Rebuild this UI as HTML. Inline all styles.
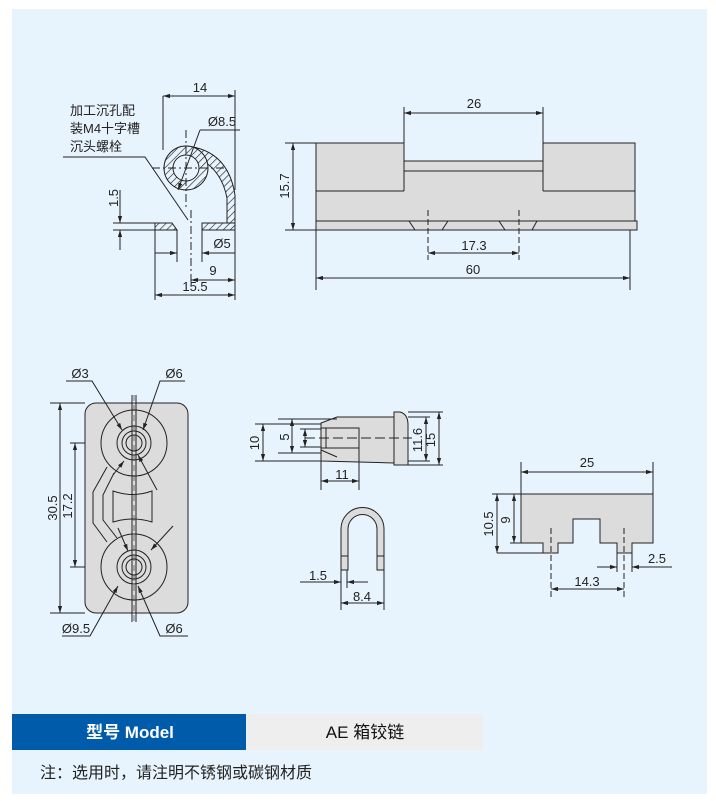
<!DOCTYPE html>
<html><head><meta charset="utf-8"><style>
body{margin:0;background:#fff;width:716px;height:801px;overflow:hidden;font-family:"Liberation Sans","Noto Sans CJK SC",sans-serif}
svg{position:absolute;left:0;top:0}
</style></head><body>
<svg width="716" height="801" viewBox="0 0 716 801" font-family="Liberation Sans, Noto Sans CJK SC, sans-serif">
<defs>
<pattern id="h" width="5" height="5" patternUnits="userSpaceOnUse" patternTransform="rotate(45)"><rect width="5" height="5" fill="#e8f4fd"/><line x1="0" y1="0" x2="0" y2="5" stroke="#222" stroke-width="1.3"/></pattern>
<marker id="a" viewBox="0 0 10 10" refX="10" refY="5" markerWidth="7" markerHeight="7" orient="auto-start-reverse"><path d="M0,2 L10,5 L0,8 z" fill="#222"/></marker>
</defs>
<rect x="12" y="9" width="695" height="785" fill="#e8f4fd"/>
<g stroke="#222" stroke-width="1" fill="none" font-size="12">
<path d="M186,146 Q228,150 235,195 L235,223 L227,223 L227,198 Q222,172 202,160 Z" fill="url(#h)"/>
<path fill-rule="evenodd" fill="url(#h)" d="M164,168 a22,22 0 1,0 44,0 a22,22 0 1,0 -44,0 Z M173,168 a13,13 0 1,0 26,0 a13,13 0 1,0 -26,0 Z"/>
<polygon points="155,223 172,223 177,230 155,230" fill="url(#h)"/>
<polygon points="202,223 235,223 235,230 202,230" fill="url(#h)"/>
<line x1="186" y1="130" x2="186" y2="210" stroke-dasharray="8,3,2,3"/>
<line x1="152" y1="168" x2="225" y2="168" stroke-dasharray="8,3,2,3"/>
<line x1="191" y1="210" x2="191" y2="285" stroke-dasharray="8,3,2,3"/>
<line x1="163" y1="96" x2="163" y2="150"/><line x1="235" y1="90" x2="235" y2="190"/>
<line x1="163" y1="96" x2="235" y2="96" marker-start="url(#a)" marker-end="url(#a)"/>
<line x1="200" y1="130" x2="240" y2="130"/><line x1="200" y1="130" x2="178" y2="190" marker-end="url(#a)"/>
<polyline points="63,157 145,157 188,220"/>
<line x1="113" y1="223" x2="155" y2="223"/><line x1="113" y1="230" x2="155" y2="230"/>
<line x1="120" y1="190" x2="120" y2="223" marker-end="url(#a)"/><line x1="120" y1="250" x2="120" y2="230" marker-end="url(#a)"/>
<line x1="177" y1="230" x2="177" y2="262"/><line x1="202" y1="230" x2="202" y2="262"/>
<line x1="155" y1="253" x2="177" y2="253" marker-end="url(#a)"/><line x1="235" y1="253" x2="202" y2="253" marker-end="url(#a)"/>
<line x1="155" y1="230" x2="155" y2="300"/><line x1="235" y1="230" x2="235" y2="300"/>
<line x1="191" y1="280" x2="235" y2="280" marker-start="url(#a)" marker-end="url(#a)"/>
<line x1="155" y1="295" x2="235" y2="295" marker-start="url(#a)" marker-end="url(#a)"/>
<path d="M316,143 L404,143 L404,161 L543,161 L543,143 L635,143 L635,221 L316,221 Z" fill="#dcdcdc"/>
<line x1="316" y1="191" x2="404" y2="191"/><line x1="543" y1="191" x2="635" y2="191"/>
<line x1="404" y1="143" x2="404" y2="191"/><line x1="543" y1="143" x2="543" y2="191"/>
<line x1="404" y1="171" x2="543" y2="171"/>
<rect x="316" y="221" width="321" height="9" fill="#dcdcdc"/>
<path d="M409,221 L415,230 M448,221 L442,230 M499,221 L505,230 M537,221 L532,230"/>
<line x1="428" y1="210" x2="428" y2="260" stroke-dasharray="6,3"/><line x1="519" y1="210" x2="519" y2="260" stroke-dasharray="6,3"/>
<line x1="404" y1="107" x2="404" y2="143"/><line x1="543" y1="107" x2="543" y2="143"/>
<line x1="404" y1="113" x2="543" y2="113" marker-start="url(#a)" marker-end="url(#a)"/>
<line x1="285" y1="143" x2="316" y2="143"/><line x1="285" y1="230" x2="316" y2="230"/>
<line x1="293" y1="143" x2="293" y2="230" marker-start="url(#a)" marker-end="url(#a)"/>
<line x1="428" y1="253" x2="519" y2="253" marker-start="url(#a)" marker-end="url(#a)"/>
<line x1="316" y1="230" x2="316" y2="290"/><line x1="630" y1="230" x2="630" y2="290"/>
<line x1="316" y1="278" x2="630" y2="278" marker-start="url(#a)" marker-end="url(#a)"/>
<rect x="85" y="403" width="103" height="210" rx="11" fill="#dcdcdc"/>
<circle cx="134" cy="443" r="33"/><circle cx="134" cy="443" r="17"/><circle cx="134" cy="443" r="12"/><circle cx="134" cy="443" r="8"/>
<circle cx="134" cy="567" r="33"/><circle cx="134" cy="567" r="17"/><circle cx="134" cy="567" r="12"/><circle cx="134" cy="567" r="8"/>
<path d="M113,491 Q133,498 152,491 L152,522 Q133,516 113,522 Z"/>
<polyline points="107,467 93,492 93,523 107,542"/>
<polyline points="114,473 103,495 103,520 117,538"/>
<line x1="132" y1="395" x2="132" y2="622"/><line x1="136" y1="395" x2="136" y2="622"/>
<line x1="134" y1="395" x2="134" y2="622" stroke-dasharray="6,4" stroke-width="0.6"/>
<line x1="50" y1="403" x2="85" y2="403"/><line x1="50" y1="613" x2="85" y2="613"/>
<line x1="60" y1="403" x2="60" y2="613" marker-start="url(#a)" marker-end="url(#a)"/>
<line x1="70" y1="443" x2="85" y2="443"/><line x1="70" y1="567" x2="85" y2="567"/>
<line x1="75" y1="443" x2="75" y2="567" marker-start="url(#a)" marker-end="url(#a)"/>
<polyline points="66,381 92,381 122,430" marker-end="url(#a)"/>
<polyline points="185,381 160,381 143,430" marker-end="url(#a)"/>
<polyline points="62,636 90,636 118,586" marker-end="url(#a)"/>
<polyline points="188,636 160,636 138,586" marker-end="url(#a)"/>
<line x1="157" y1="490" x2="138" y2="455" marker-end="url(#a)"/>
<line x1="173" y1="526" x2="151" y2="550" marker-end="url(#a)"/>
<line x1="113" y1="475" x2="124" y2="461" marker-end="url(#a)"/>
<line x1="118" y1="528" x2="128" y2="551" marker-end="url(#a)"/>
<path d="M321,423 L337,417 L394,417 L394,463 L321,461 Z" fill="#dcdcdc"/>
<path d="M394,412 L400,412 Q408,414 408,425 L408,465 L394,465 Z" fill="#dcdcdc"/>
<rect x="321" y="428" width="38" height="20"/><line x1="326" y1="428" x2="326" y2="448"/>
<line x1="321" y1="450" x2="337" y2="457"/>
<line x1="305" y1="438" x2="412" y2="438" stroke-dasharray="10,4"/>
<line x1="255" y1="424" x2="321" y2="424"/><line x1="255" y1="461" x2="321" y2="461"/>
<line x1="263" y1="424" x2="263" y2="461" marker-start="url(#a)" marker-end="url(#a)"/>
<line x1="278" y1="419" x2="337" y2="419"/><line x1="278" y1="453" x2="321" y2="453"/>
<line x1="292" y1="419" x2="292" y2="453" marker-start="url(#a)" marker-end="url(#a)"/>
<line x1="300" y1="429" x2="321" y2="429"/><line x1="300" y1="447" x2="321" y2="447"/>
<line x1="305" y1="429" x2="305" y2="447" marker-start="url(#a)" marker-end="url(#a)"/>
<line x1="408" y1="412" x2="443" y2="412"/><line x1="408" y1="465" x2="443" y2="465"/>
<line x1="408" y1="417" x2="430" y2="417"/><line x1="408" y1="461" x2="430" y2="461"/>
<line x1="426" y1="417" x2="426" y2="461" marker-start="url(#a)" marker-end="url(#a)"/>
<line x1="439" y1="412" x2="439" y2="465" marker-start="url(#a)" marker-end="url(#a)"/>
<line x1="321" y1="461" x2="321" y2="490"/><line x1="359" y1="448" x2="359" y2="490"/>
<line x1="321" y1="481" x2="359" y2="481" marker-start="url(#a)" marker-end="url(#a)"/>
<path d="M341,570 L341,529 A21.5,21.5 0 0 1 384,529 L384,570 L377,570 L377,529 A14.5,14.5 0 0 0 348,529 L348,570 Z" fill="#dcdcdc"/>
<line x1="341" y1="556" x2="348" y2="556"/><line x1="377" y1="556" x2="384" y2="556"/>
<line x1="341" y1="570" x2="341" y2="610"/><line x1="384" y1="570" x2="384" y2="610"/><line x1="347" y1="570" x2="347" y2="588"/>
<line x1="300" y1="582" x2="341" y2="582" marker-end="url(#a)"/><line x1="368" y1="582" x2="347" y2="582" marker-end="url(#a)"/>
<line x1="341" y1="603" x2="384" y2="603" marker-start="url(#a)" marker-end="url(#a)"/>
<path d="M521,494 L653,494 L653,543 L632,543 L632,553 L617,553 L617,543 L600,543 L600,519 L573,519 L573,543 L558,543 L558,553 L543,553 L543,543 L521,543 Z" fill="#dcdcdc"/>
<line x1="551" y1="528" x2="551" y2="597" stroke-dasharray="6,3"/><line x1="624" y1="528" x2="624" y2="597" stroke-dasharray="6,3"/>
<line x1="521" y1="462" x2="521" y2="494"/><line x1="653" y1="462" x2="653" y2="494"/>
<line x1="521" y1="472" x2="653" y2="472" marker-start="url(#a)" marker-end="url(#a)"/>
<line x1="492" y1="494" x2="521" y2="494"/><line x1="510" y1="543" x2="521" y2="543"/><line x1="497" y1="553" x2="543" y2="553"/>
<line x1="497" y1="494" x2="497" y2="553" marker-start="url(#a)" marker-end="url(#a)"/>
<line x1="514" y1="494" x2="514" y2="543" marker-start="url(#a)" marker-end="url(#a)"/>
<line x1="617" y1="553" x2="617" y2="572"/><line x1="632" y1="553" x2="632" y2="572"/>
<line x1="597" y1="567" x2="617" y2="567" marker-end="url(#a)"/><line x1="672" y1="567" x2="632" y2="567" marker-end="url(#a)"/>
<line x1="551" y1="589" x2="624" y2="589" marker-start="url(#a)" marker-end="url(#a)"/>
</g>
<g fill="#222" font-size="13" text-anchor="middle">
<text x="200" y="92">14</text>
<text x="222" y="126">Ø8.5</text>
<text x="70" y="115" text-anchor="start">加工沉孔配</text>
<text x="70" y="133" text-anchor="start">装M4十字槽</text>
<text x="70" y="151" text-anchor="start">沉头螺栓</text>
<text transform="translate(118,198) rotate(-90)">1.5</text>
<text x="222" y="248">Ø5</text>
<text x="213" y="275">9</text>
<text x="195" y="291">15.5</text>
<text x="474" y="108">26</text>
<text transform="translate(289,186) rotate(-90)">15.7</text>
<text x="474" y="250">17.3</text>
<text x="473" y="274">60</text>
<text x="80" y="378">Ø3</text>
<text x="174" y="378">Ø6</text>
<text transform="translate(57,508) rotate(-90)">30.5</text>
<text transform="translate(72,506) rotate(-90)">17.2</text>
<text x="76" y="633">Ø9.5</text>
<text x="174" y="633">Ø6</text>
<text transform="translate(259,443) rotate(-90)">10</text>
<text transform="translate(289,437) rotate(-90)">5</text>
<text transform="translate(422,440) rotate(-90)">11.6</text>
<text transform="translate(435,440) rotate(-90)">15</text>
<text x="342" y="479">11</text>
<text x="318" y="580">1.5</text>
<text x="362" y="601">8.4</text>
<text x="587" y="467">25</text>
<text transform="translate(493,524) rotate(-90)">10.5</text>
<text transform="translate(510,520) rotate(-90)">9</text>
<text x="657" y="563">2.5</text>
<text x="587" y="586">14.3</text>
</g>
<rect x="12" y="714" width="234" height="36" fill="#005bab"/>
<rect x="247" y="714" width="236" height="36" fill="#eeeeee"/>
<text x="130" y="738" fill="#fff" font-size="17" text-anchor="middle" font-weight="bold">型号 Model</text>
<text x="365" y="738" fill="#111" font-size="17" text-anchor="middle">AE 箱铰链</text>
<text x="40" y="778" fill="#222" font-size="16">注：选用时，请注明不锈钢或碳钢材质</text>
</svg>
</body></html>
